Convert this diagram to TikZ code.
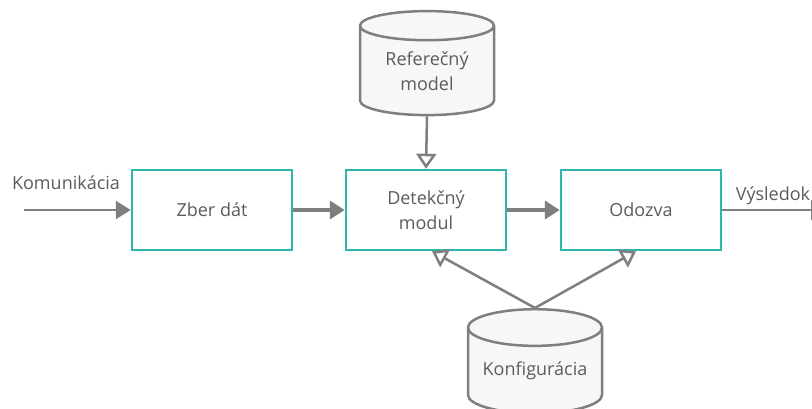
\documentclass[tikz,border=0pt]{standalone}
\usepackage{fontspec}
\setmainfont{Open Sans}
\usetikzlibrary{arrows.meta,shapes.geometric}

\definecolor{tyrkys}{HTML}{2EB5AE}
\definecolor{sivaciara}{HTML}{7F7F7F}
\definecolor{sivytext}{HTML}{5C5C5C}
\definecolor{sivavypln}{HTML}{F7F7F7}

\tikzset{
  blok/.style={draw=tyrkys, line width=2.5pt, fill=white, minimum width=160pt,
    minimum height=80pt, inner sep=0pt, align=center, text=sivytext},
  databaza/.style={shape=cylinder, shape border rotate=90, aspect=0.35,
    draw=sivaciara, line width=2.5pt, fill=sivavypln, minimum width=134pt,
    minimum height=104pt, inner sep=0pt, align=center, text=sivytext},
  popis/.style={text=sivytext, inner sep=0pt},
  tok/.style={draw=sivaciara, line width=4pt, -{Triangle[length=15pt,width=18pt]}},
  vstup/.style={draw=sivaciara, line width=2.5pt, -{Triangle[length=15pt,width=18pt]}},
  odkaz/.style={draw=sivaciara, line width=2.5pt,
    -{Triangle[open,length=15pt,width=20pt,fill=white]}}
}

\begin{document}
\begin{tikzpicture}[x=1pt, y=-1pt, font=\fontsize{18}{25}\selectfont]
  \clip (0,0) rectangle (812,408);
  \fill[white] (0,0) rectangle (812,408);

  % bloky
  \node[blok] (zber) at (212,210) {Zber dát};
  \node[blok] (detekcia) at (426,210) {Detekčný\\modul};
  \node[blok] (odozva) at (641,210) {Odozva};

  % databazy
  \node[databaza] (model) at (427,71) {Referečný\\model};
  \node[databaza] (konfig) at (535,371) {Konfigurácia};

  % vstup a vystup
  \coordinate (zaciatok) at (24,210);
  \coordinate (koniec) at (826,210);
  \node[popis] (komunikacia) at (66,183) {Komunikácia};
  \node[popis] (vysledok) at (773,196) {Výsledok};

  \draw[vstup] (zaciatok) -- (zber);
  \draw[tok] (zber) -- (detekcia);
  \draw[tok] (detekcia) -- (odozva);
  \draw[odkaz, line width=2pt] (odozva) -- (koniec);

  \draw[odkaz] (model.south) -- (detekcia.north);
  \draw[odkaz] (konfig.north) -- ([xshift=6pt]detekcia.south);
  \draw[odkaz] (konfig.north) -- ([xshift=-5pt]odozva.south);
\end{tikzpicture}
\end{document}
